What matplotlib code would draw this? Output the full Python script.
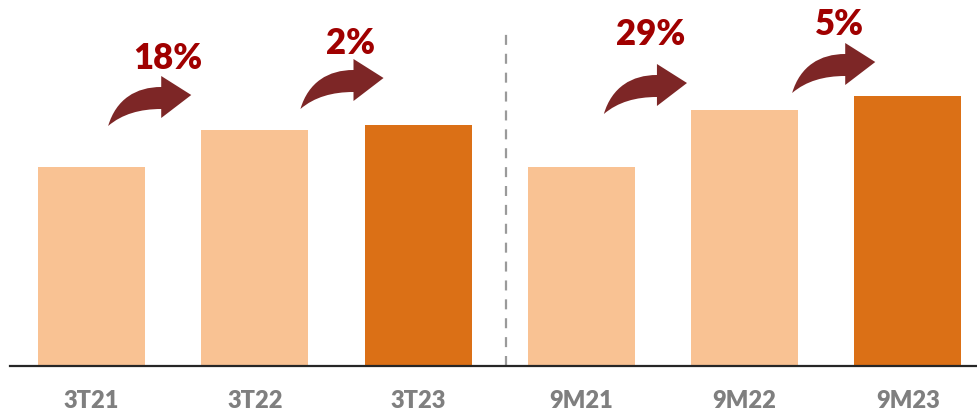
import matplotlib
matplotlib.use("Agg")
import matplotlib.pyplot as plt
from matplotlib.path import Path
from matplotlib.patches import PathPatch

# values (bar heights in arbitrary units)
categories = ["3T21", "3T22", "3T23", "9M21", "9M22", "9M23"]
values = [199, 236, 241, 199, 256, 270]
is_current = [False, False, True, False, False, True]
growth_labels = ["18%", "2%", "29%", "5%"]
growth_pairs = [(0, 1), (1, 2), (3, 4), (4, 5)]

# arrow placement (pixel offsets): tip x from next bar centre, tip height over next bar
arrow_dx = [-63.5, -34.5, -57.5, -32.5]
arrow_lift = [35, 47, 27, 34]
# label placement relative to arrow tip
label_dx = [-23, -33, -36, -36]
label_dy = [26, 24, 38, 27]

light = "#F9C293"
dark = "#DB7016"
arrow_col = "#7D2626"
pct_col = "#A00000"

fig = plt.figure(figsize=(9.78, 4.12), dpi=100)
ax = fig.add_axes([10 / 978, 1 - 366 / 412, 968 / 978, 366 / 412])

xs = list(range(len(categories)))
colors = [dark if c else light for c in is_current]
ax.bar(xs, values, width=0.656, color=colors, zorder=2)

ax.set_xlim(-0.5, 5.43)
ax.set_ylim(0, 366)
for s in ["top", "right", "left"]:
    ax.spines[s].set_visible(False)
ax.spines["bottom"].set_color("#262626")
ax.spines["bottom"].set_linewidth(1.6)
ax.set_yticks([])
ax.set_xticks(xs)
ax.set_xticklabels(categories, fontsize=17, fontweight="heavy", color="#7F7F7F",
                   family=["Lato", "DejaVu Sans"])
ax.tick_params(axis="x", length=0, pad=17)

# dashed separator between quarter and nine-month blocks
ax.plot([2.537, 2.537], [0, 336], color="#9A9A9A", lw=1.6, ls=(0, (4.5, 4)), zorder=1)

# curved arrow shape in pixel offsets from tail (y up)
px = 1 / 163.0
verts = [(0, 0),
         (8, 27), (28, 39), (53, 39),
         (53, 50),
         (83, 31),
         (53, 8),
         (53, 17),
         (32, 17), (14, 12), (0, 0)]
codes = [Path.MOVETO,
         Path.CURVE4, Path.CURVE4, Path.CURVE4,
         Path.LINETO,
         Path.LINETO,
         Path.LINETO,
         Path.LINETO,
         Path.CURVE4, Path.CURVE4, Path.CURVE4]

for k, ((i, j), lab) in enumerate(zip(growth_pairs, growth_labels)):
    tip_x = j + arrow_dx[k] * px
    tip_y = values[j] + arrow_lift[k]
    tail_x = tip_x - 83 * px
    tail_y = tip_y - 31
    pts = [(tail_x + dx * px, tail_y + dy) for dx, dy in verts]
    ax.add_patch(PathPatch(Path(pts, codes), facecolor=arrow_col, edgecolor="none",
                           zorder=3, clip_on=False))
    ax.text(tip_x + label_dx[k] * px, tip_y + label_dy[k], lab, ha="center", va="baseline",
            fontsize=25, fontweight="heavy", color=pct_col,
            family=["Lato", "DejaVu Sans"])

fig.savefig("out.png", dpi=100, facecolor="white")
